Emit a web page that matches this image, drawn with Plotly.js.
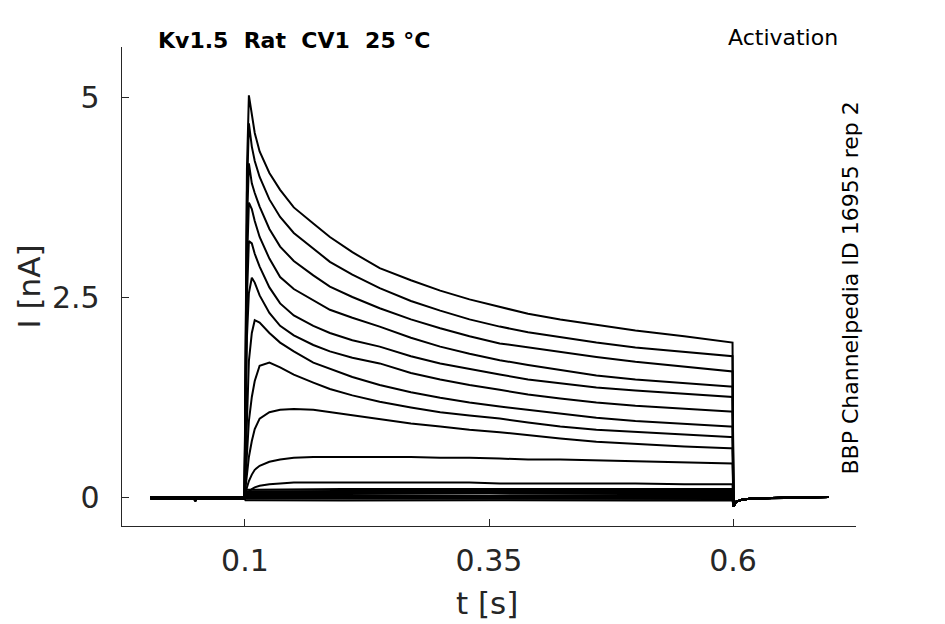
<!DOCTYPE html>
<html>
<head>
<meta charset="utf-8">
<script src="https://cdn.plot.ly/plotly-3.0.1.min.js"></script>
<style>
  body { margin: 0; background: #fff; }
  #myPlot { width: 945px; height: 624px; }
</style>
</head>
<body>
<div id="myPlot"></div>
<script>
// holding level before the step (s, nA)
const preT = [0.003, 0.048, 0.049, 0.050, 0.0995];
const preI = [0, 0, -0.04, 0, 0];
const preIlow = [-0.02, -0.02, -0.05, -0.02, -0.02];

// during the step
const stepT = [0.1005, 0.102, 0.104, 0.107, 0.11, 0.115, 0.125, 0.136, 0.15, 0.17, 0.187, 0.21,
               0.238, 0.27, 0.3, 0.33, 0.361, 0.39, 0.423, 0.46, 0.5, 0.55, 0.597, 0.5995];

const trace1  = [1.6, 4.1, 5.02, 4.75, 4.55, 4.32, 4.05, 3.84, 3.62, 3.42, 3.25, 3.06, 2.86, 2.71, 2.58, 2.47, 2.38, 2.29, 2.22, 2.15, 2.08, 2.01, 1.93, 1.93];
const trace2  = [1.5, 3.8, 4.67, 4.38, 4.2, 4.0, 3.72, 3.50, 3.30, 3.10, 2.94, 2.78, 2.61, 2.45, 2.33, 2.22, 2.13, 2.06, 2.00, 1.93, 1.87, 1.81, 1.76, 1.76];
const trace3  = [1.3, 3.4, 4.17, 3.92, 3.8, 3.63, 3.35, 3.13, 2.95, 2.77, 2.63, 2.50, 2.36, 2.22, 2.11, 2.01, 1.92, 1.87, 1.82, 1.75, 1.69, 1.63, 1.57, 1.57];
const trace4  = [1.1, 2.9, 3.68, 3.6, 3.45, 3.25, 2.98, 2.75, 2.60, 2.46, 2.34, 2.24, 2.13, 1.99, 1.88, 1.79, 1.71, 1.65, 1.59, 1.52, 1.47, 1.42, 1.38, 1.38];
const trace5  = [0.9, 2.5, 3.2, 3.17, 3.04, 2.88, 2.62, 2.42, 2.27, 2.14, 2.05, 1.96, 1.88, 1.76, 1.67, 1.60, 1.53, 1.47, 1.42, 1.37, 1.33, 1.29, 1.25, 1.25];
const trace6  = [0.7, 2.0, 2.55, 2.74, 2.68, 2.52, 2.30, 2.14, 2.02, 1.90, 1.82, 1.74, 1.67, 1.55, 1.47, 1.40, 1.34, 1.28, 1.23, 1.18, 1.14, 1.10, 1.07, 1.07];
const trace7  = [0.4, 1.2, 1.7, 2.05, 2.21, 2.18, 2.05, 1.93, 1.82, 1.68, 1.60, 1.50, 1.40, 1.31, 1.24, 1.18, 1.13, 1.09, 1.05, 0.99, 0.95, 0.91, 0.88, 0.88];
const trace8  = [0.2, 0.6, 0.95, 1.25, 1.45, 1.64, 1.68, 1.62, 1.53, 1.43, 1.35, 1.27, 1.19, 1.12, 1.06, 1.02, 0.98, 0.93, 0.88, 0.84, 0.81, 0.78, 0.75, 0.75];
const trace9  = [0.1, 0.3, 0.5, 0.7, 0.85, 0.98, 1.06, 1.09, 1.10, 1.09, 1.06, 1.02, 0.97, 0.92, 0.88, 0.84, 0.81, 0.77, 0.73, 0.69, 0.66, 0.63, 0.61, 0.61];
const trace10 = [0.03, 0.12, 0.2, 0.28, 0.34, 0.39, 0.44, 0.47, 0.49, 0.50, 0.50, 0.50, 0.50, 0.50, 0.49, 0.49, 0.48, 0.47, 0.47, 0.46, 0.45, 0.43, 0.42, 0.42];
const trace11 = [0.01, 0.04, 0.07, 0.10, 0.12, 0.14, 0.16, 0.17, 0.18, 0.18, 0.18, 0.18, 0.18, 0.18, 0.18, 0.18, 0.17, 0.17, 0.17, 0.17, 0.17, 0.16, 0.16, 0.16];

// near-zero sweeps that form the dark band
const bandT = [0.1005, 0.2, 0.35, 0.5, 0.5995];
const band1 = [0.09, 0.10, 0.10, 0.10, 0.10];
const band2 = [0.07, 0.075, 0.075, 0.07, 0.075];
const band3 = [0.05, 0.05, 0.05, 0.05, 0.05];
const band4 = [0.025, 0.025, 0.02, 0.025, 0.025];
const band5 = [0.0, 0.0, 0.0, 0.0, 0.0];
const band6 = [-0.02, -0.025, -0.025, -0.02, -0.025];
const band7 = [-0.04, -0.045, -0.04, -0.045, -0.04];

// tail after the step
const postT = [0.6005, 0.603, 0.61, 0.62, 0.65, 0.698];
const postI = [-0.12, -0.06, -0.03, -0.02, -0.01, 0];

const xTicks = [0.1, 0.35, 0.6];
const xLabels = ['0.1', '0.35', '0.6'];
const yTicks = [0, 2.5, 5];
const yLabels = ['0', '2.5', '5'];

const sweeps = [
  [stepT, trace1, preI], [stepT, trace2, preI], [stepT, trace3, preI], [stepT, trace4, preI],
  [stepT, trace5, preI], [stepT, trace6, preI], [stepT, trace7, preI], [stepT, trace8, preI],
  [stepT, trace9, preI], [stepT, trace10, preI], [stepT, trace11, preI],
  [bandT, band1, preIlow], [bandT, band2, preIlow], [bandT, band3, preIlow], [bandT, band4, preIlow],
  [bandT, band5, preIlow], [bandT, band6, preIlow], [bandT, band7, preIlow]
];

const data = sweeps.map(([t, v, pre]) => ({
  x: preT.concat(t, postT),
  y: pre.concat(v, postI),
  type: 'scatter',
  mode: 'lines',
  line: {color: '#000', width: 2},
  hoverinfo: 'skip'
}));

const txt = '#262626';

const layout = {
  width: 945,
  height: 624,
  margin: {l: 122, r: 89, t: 47, b: 98},
  paper_bgcolor: '#fff',
  plot_bgcolor: '#fff',
  showlegend: false,
  font: {family: 'DejaVu Sans', color: txt},
  xaxis: {
    range: [-0.026, 0.726],
    tickvals: xTicks,
    ticktext: xLabels,
    ticks: 'inside',
    ticklen: 7,
    tickcolor: txt,
    tickfont: {size: 30, color: txt},
    ticklabelstandoff: 8,
    showline: true,
    linecolor: txt,
    linewidth: 1.3,
    showgrid: false,
    zeroline: false
  },
  yaxis: {
    range: [-0.3625, 5.625],
    tickvals: yTicks,
    ticktext: yLabels,
    ticks: 'inside',
    ticklen: 7,
    tickcolor: txt,
    tickfont: {size: 30, color: txt},
    ticklabelstandoff: 15,
    showline: true,
    linecolor: txt,
    linewidth: 1.3,
    showgrid: false,
    zeroline: false
  },
  annotations: [
    {text: '<b>Kv1.5  Rat  CV1  25 °C</b>', xref: 'paper', yref: 'paper',
     x: 0.047, y: 1.0146, xanchor: 'left', yanchor: 'middle', showarrow: false,
     font: {size: 22, color: '#000'}},
    {text: 'Activation', xref: 'paper', yref: 'paper',
     x: 0.978, y: 1.019, xanchor: 'right', yanchor: 'middle', showarrow: false,
     font: {size: 22, color: '#000'}},
    {text: 'BBP Channelpedia ID 16955 rep 2', xref: 'paper', yref: 'paper',
     x: 0.992, y: 0.496, xanchor: 'center', yanchor: 'middle', textangle: -90, showarrow: false,
     font: {size: 22, color: '#000'}},
    {text: 't [s]', xref: 'paper', yref: 'paper',
     x: 0.497, y: -0.161, xanchor: 'center', yanchor: 'middle', showarrow: false,
     font: {size: 31, color: txt}},
    {text: 'I [nA]', xref: 'paper', yref: 'paper',
     x: -0.128, y: 0.5, xanchor: 'center', yanchor: 'middle', textangle: -90, showarrow: false,
     font: {size: 31, color: txt}}
  ]
};

Plotly.newPlot('myPlot', data, layout, {staticPlot: true});
</script>
</body>
</html>
